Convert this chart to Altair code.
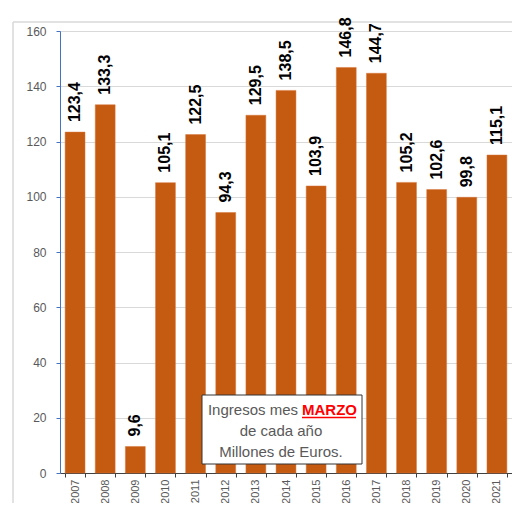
import altair as alt
import pandas as pd

years = ["2007", "2008", "2009", "2010", "2011", "2012", "2013", "2014",
         "2015", "2016", "2017", "2018", "2019", "2020", "2021"]
values = [123.4, 133.3, 9.6, 105.1, 122.5, 94.3, 129.5, 138.5,
          103.9, 146.8, 144.7, 105.2, 102.6, 99.8, 115.1]
y_ticks = [0, 20, 40, 60, 80, 100, 120, 140, 160]

df = pd.DataFrame({"year": years, "value": values})
df["label"] = [f"{v:.1f}".replace(".", ",") for v in values]

FONT = "Liberation Sans"
GRAY = "#595959"
W, H = 452, 442

x = alt.X("year:N", sort=years, title=None,
          scale=alt.Scale(paddingInner=0.34, paddingOuter=0.17),
          axis=alt.Axis(labelAngle=-90, labelAlign="right", labelBaseline="middle",
                        labelFont=FONT, labelFontSize=11, labelColor=GRAY,
                        labelPadding=2, tickBand="extent", tickSize=4,
                        tickColor="#404040", domainColor="#404040", grid=False))
y = alt.Y("value:Q", title=None,
          scale=alt.Scale(domain=[0, 160], nice=False),
          axis=alt.Axis(values=y_ticks, labelFont=FONT, labelFontSize=12,
                        labelColor=GRAY, labelPadding=10, tickSize=4,
                        tickColor="#4472C4", domainColor="#4472C4",
                        gridColor="#d9d9d9", grid=True))

base = alt.Chart(df)
bars = base.mark_bar(color="#C55A11", stroke="#D9773A", strokeWidth=0.5).encode(x=x, y=y)
labels = base.mark_text(angle=270, align="left", baseline="middle", dx=10,
                        font=FONT, fontSize=16, fontWeight="bold", color="black").encode(
    x=alt.X("year:N", sort=years), y="value:Q", text="label:N")

one = alt.Chart(pd.DataFrame({"a": [0]}))
border_left = one.mark_rule(color="#d9d9d9", strokeWidth=1.5).encode(
    x=alt.value(-47), y=alt.value(-9), y2=alt.value(600))
border_top = one.mark_rule(color="#d9d9d9", strokeWidth=1.5).encode(
    x=alt.value(-47), x2=alt.value(600), y=alt.value(-9))

box = one.mark_rect(fill="white", stroke="#333333", strokeWidth=1).encode(
    x=alt.value(142), x2=alt.value(302), y=alt.value(364), y2=alt.value(433))
t1 = one.mark_text(text="Ingresos mes", align="right", baseline="alphabetic",
                   font=FONT, fontSize=15, color=GRAY).encode(
    x=alt.value(238), y=alt.value(384))
t1b = one.mark_text(text="MARZO", align="left", baseline="alphabetic",
                    font=FONT, fontSize=15, fontWeight="bold", color="#FF0000").encode(
    x=alt.value(242), y=alt.value(384))
underline = one.mark_rule(color="#FF0000", strokeWidth=1.5).encode(
    x=alt.value(242), x2=alt.value(296), y=alt.value(386.5))
t2 = one.mark_text(text="de cada año", align="center", baseline="alphabetic",
                   font=FONT, fontSize=15, color=GRAY).encode(
    x=alt.value(221), y=alt.value(405))
t3 = one.mark_text(text="Millones de Euros.", align="center", baseline="alphabetic",
                   font=FONT, fontSize=15, color=GRAY).encode(
    x=alt.value(221), y=alt.value(426))

chart = alt.layer(border_left, border_top, bars, labels, box, t1, t1b, underline, t2, t3).properties(
    width=W, height=H,
    autosize=alt.AutoSizeParams(type="none"),
    padding={"left": 52, "top": 23, "right": 0, "bottom": 30},
).configure_view(strokeWidth=0).configure(background="white")

chart.save("out.html", embed_options={"renderer": "svg", "actions": False})
